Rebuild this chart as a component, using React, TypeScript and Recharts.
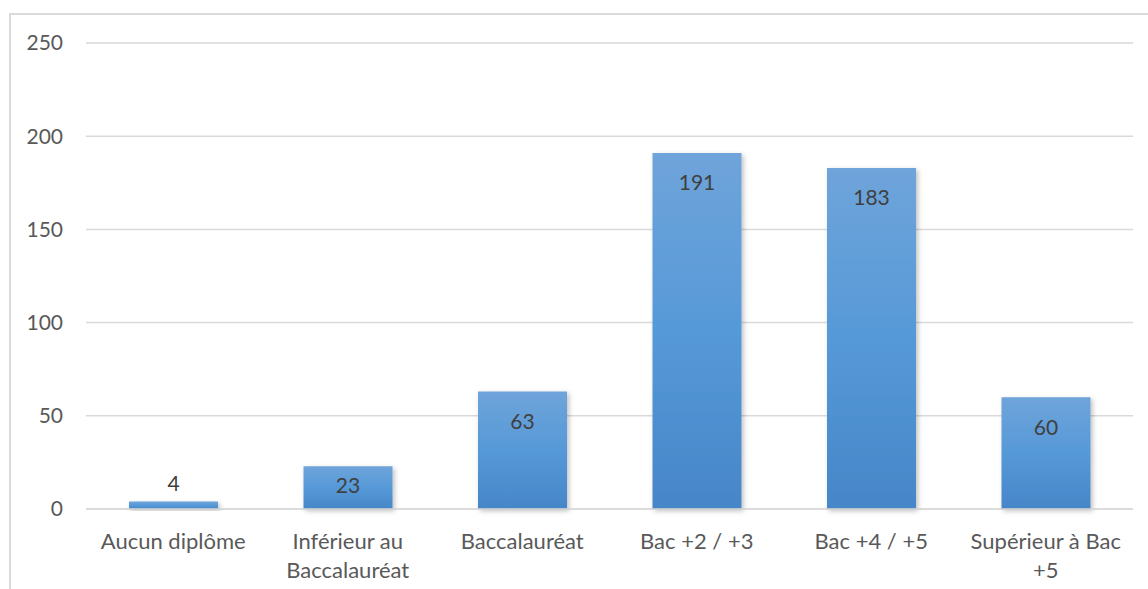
import React from 'react';
import { BarChart, Bar, XAxis, YAxis, CartesianGrid, LabelList } from 'recharts';

const categories = [
  'Aucun diplôme',
  'Inférieur au Baccalauréat',
  'Baccalauréat',
  'Bac +2 / +3',
  'Bac +4 / +5',
  'Supérieur à Bac +5',
];
const values = [4, 23, 63, 191, 183, 60];
const yTicks = [0, 50, 100, 150, 200, 250];

const data = categories.map((name, i) => ({ name, value: values[i] }));

const FONT = 'Lato, "Open Sans", sans-serif';
const X_FONT_SIZE = 22;
const WRAP_WIDTH = 160;

let measureCtx: CanvasRenderingContext2D | null = null;
const measure = (s: string) => {
  if (!measureCtx) {
    const c = document.createElement('canvas');
    measureCtx = c.getContext('2d');
  }
  if (!measureCtx) return s.length * X_FONT_SIZE * 0.5;
  measureCtx.font = `${X_FONT_SIZE}px Lato`;
  return measureCtx.measureText(s).width;
};

const wrap = (label: string) => {
  const words = label.split(' ');
  const lines: string[] = [];
  let cur = '';
  words.forEach((w) => {
    const next = cur ? cur + ' ' + w : w;
    if (cur && measure(next) > WRAP_WIDTH) {
      lines.push(cur);
      cur = w;
    } else {
      cur = next;
    }
  });
  if (cur) lines.push(cur);
  return lines;
};

const XTick = (props: any) => {
  const { x, y, payload } = props;
  const lines = wrap(String(payload.value));
  return (
    <text
      x={x}
      y={y}
      textAnchor="middle"
      fill="#595959"
      fontSize={X_FONT_SIZE}
      fontFamily={FONT}
    >
      {lines.map((l, i) => (
        <tspan key={i} x={x} dy={i === 0 ? '0.71em' : 29}>
          {l}
        </tspan>
      ))}
    </text>
  );
};

const ValueLabel = (props: any) => {
  const { x, y, width, height, value } = props;
  const inside = height > 40;
  const cy = inside ? y + Math.min(29, height - 25) : y - 19;
  return (
    <text
      x={x + width / 2}
      y={cy}
      textAnchor="middle"
      dominantBaseline="central"
      fill="#404040"
      fontSize={21}
      fontFamily={FONT}
    >
      {value}
    </text>
  );
};

export default function App() {
  return (
    <div style={{ position: 'absolute', left: 0, top: 0, width: 1148, height: 589, overflow: 'hidden', background: '#fff' }}>
      <div
        style={{
          position: 'absolute',
          left: 9,
          top: 13,
          width: 1300,
          height: 800,
          border: '2px solid #d9d9d9',
          boxSizing: 'border-box',
        }}
      />
      <div style={{ position: 'absolute', left: 0, top: 0 }}>
        <BarChart
          width={1148}
          height={589}
          data={data}
          margin={{ top: 43, right: 15, bottom: 50, left: 0 }}
          barSize={89}
        >
          <defs>
            <linearGradient id="barGrad" x1="0" y1="0" x2="0" y2="1">
              <stop offset="0%" stopColor="#6fa4da" />
              <stop offset="50%" stopColor="#5699d8" />
              <stop offset="100%" stopColor="#4686c8" />
            </linearGradient>
            <filter id="barShadow" x="-20%" y="-20%" width="140%" height="140%">
              <feDropShadow dx="2" dy="2" stdDeviation="2.5" floodColor="#000" floodOpacity="0.25" />
            </filter>
          </defs>
          <CartesianGrid vertical={false} stroke="#d9d9d9" strokeWidth={1.5} />
          <XAxis
            dataKey="name"
            axisLine={{ stroke: '#d9d9d9', strokeWidth: 1.5 }}
            tickLine={false}
            tickSize={0}
            tickMargin={24}
            interval={0}
            tick={<XTick />}
          />
          <YAxis
            width={86}
            domain={[0, 250]}
            ticks={yTicks}
            axisLine={false}
            tickLine={false}
            tickSize={0}
            tickMargin={23}
            tick={{ fill: '#595959', fontSize: 21, fontFamily: FONT }}
          />
          <Bar dataKey="value" fill="url(#barGrad)" filter="url(#barShadow)" isAnimationActive={false}>
            <LabelList dataKey="value" content={<ValueLabel />} />
          </Bar>
        </BarChart>
      </div>
    </div>
  );
}
